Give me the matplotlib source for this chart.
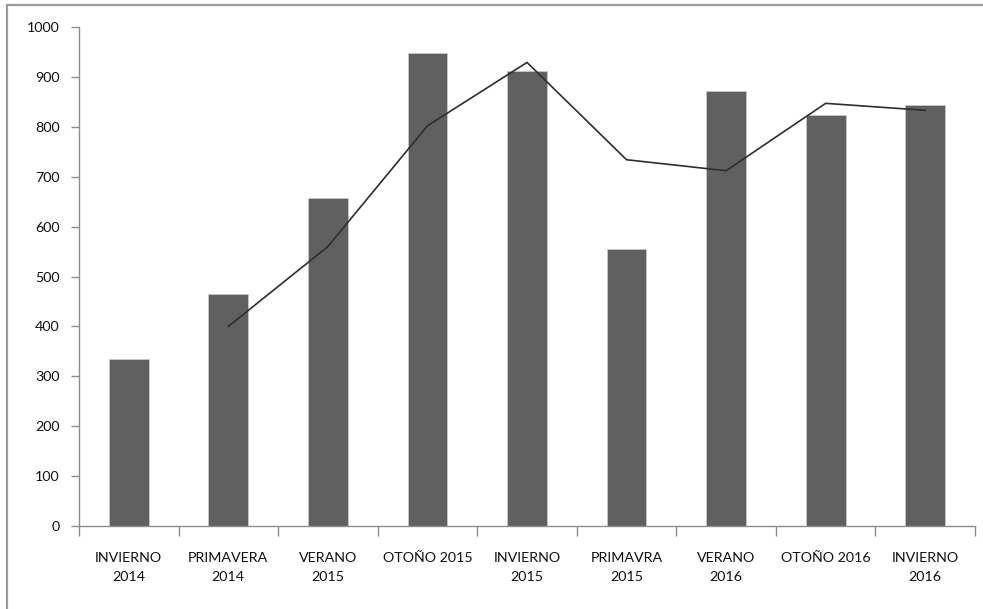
import matplotlib
matplotlib.use("Agg")
import matplotlib.pyplot as plt
from matplotlib.patches import Rectangle
import numpy as np

# Seasonal totals (bars) and the two-period moving average (line)
categories = ["INVIERNO\n2014", "PRIMAVERA\n2014", "VERANO\n2015", "OTOÑO 2015",
              "INVIERNO\n2015", "PRIMAVRA\n2015", "VERANO\n2016", "OTOÑO 2016",
              "INVIERNO\n2016"]
values = [335, 464, 657, 947, 912, 555, 872, 823, 844]
trend_x = [1, 2, 3, 4, 5, 6, 7, 8]
trend_values = [400, 560, 802, 929, 734, 712, 847, 833]
y_ticks = [0, 100, 200, 300, 400, 500, 600, 700, 800, 900, 1000]

W, H = 983, 609
fig = plt.figure(figsize=(W / 100, H / 100), dpi=100)
fig.patch.set_facecolor("white")

# thin grey frame around the chart area
fig.patches.append(Rectangle((7 / W, -0.1), 1.2, 1 - 5 / H + 0.1,
                             transform=fig.transFigure, fill=False,
                             edgecolor="#9a9a9a", linewidth=1.6))

ax = fig.add_axes([79 / W, 1 - 526 / H, (975 - 79) / W, (526 - 27) / H])
x = np.arange(len(categories))
ax.bar(x, values, width=0.4, color="#606060", edgecolor="#c8c8c8", linewidth=0.6, zorder=2)
ax.plot(trend_x, trend_values, color="#2e2e2e", linewidth=1.2, zorder=3)

ax.set_xlim(-0.5, len(categories) - 0.5)
ax.set_ylim(0, 1000)

for side in ("top", "right"):
    ax.spines[side].set_visible(False)
for side in ("left", "bottom"):
    ax.spines[side].set_color("#8c8c8c")
    ax.spines[side].set_linewidth(1.0)

font = "Lato"
ax.set_yticks(y_ticks)
ax.set_yticklabels([str(v) for v in y_ticks], fontsize=10.3, family=font, color="#111111")
ax.tick_params(axis="y", length=6, width=1, color="#8c8c8c", pad=8)

ax.set_xticks(x)
ax.set_xticklabels(categories, fontsize=10.3, family=font, color="#111111", linespacing=1.7)
ax.tick_params(axis="x", which="major", length=0, pad=19)
ax.set_xticks(np.arange(-0.5, len(categories), 1), minor=True)
ax.tick_params(axis="x", which="minor", length=7, width=1, color="#8c8c8c")

fig.savefig("out.png", dpi=100, facecolor="white")
